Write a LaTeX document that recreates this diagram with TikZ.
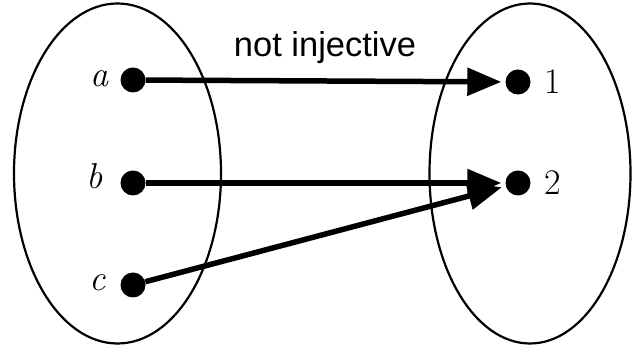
\documentclass[tikz,border=0pt]{standalone}
\usepackage{fontspec}
\newfontfamily\labelsans{Liberation Sans}
\usetikzlibrary{arrows.meta}
\begin{document}
\begin{tikzpicture}[x=1pt,y=1pt,
  setellipse/.style={draw=black,line width=2.2pt},
  dotnode/.style={circle,fill=black,inner sep=0pt,minimum size=25pt},
  elemlabel/.style={font=\fontsize{36}{36}\selectfont,inner sep=0pt},
  maparrow/.style={line width=5.5pt,-{Triangle[length=34pt,width=27pt]},shorten >=4pt}]
\useasboundingbox (0,0) rectangle (632,355);
\draw[setellipse] (117.5,181.5) ellipse [x radius=103.5, y radius=170];
\draw[setellipse] (530,181.5) ellipse [x radius=100.5, y radius=170];
\node[dotnode] (a) at (133,275) {};
\node[dotnode] (b) at (133,172) {};
\node[dotnode] (c) at (133,70) {};
\node[dotnode] (one) at (518,273) {};
\node[dotnode] (two) at (518,172) {};
\node[elemlabel,anchor=base] (la) at (99,268) {\itshape a};
\node[elemlabel,anchor=base] (lb) at (95,166) {\itshape b};
\node[elemlabel,anchor=base] (lc) at (98,64) {\itshape c};
\node[elemlabel,anchor=base] (l1) at (553,261) {1};
\node[elemlabel,anchor=base] (l2) at (553,160) {2};
\node[font=\labelsans\fontsize{34.5}{34.5}\selectfont,inner sep=0pt,anchor=base] (title) at (325,298) {not injective};
\draw[maparrow] (a) -- (one);
\draw[maparrow] (b) -- (two);
\draw[maparrow] (c) -- (two);
\end{tikzpicture}
\end{document}
